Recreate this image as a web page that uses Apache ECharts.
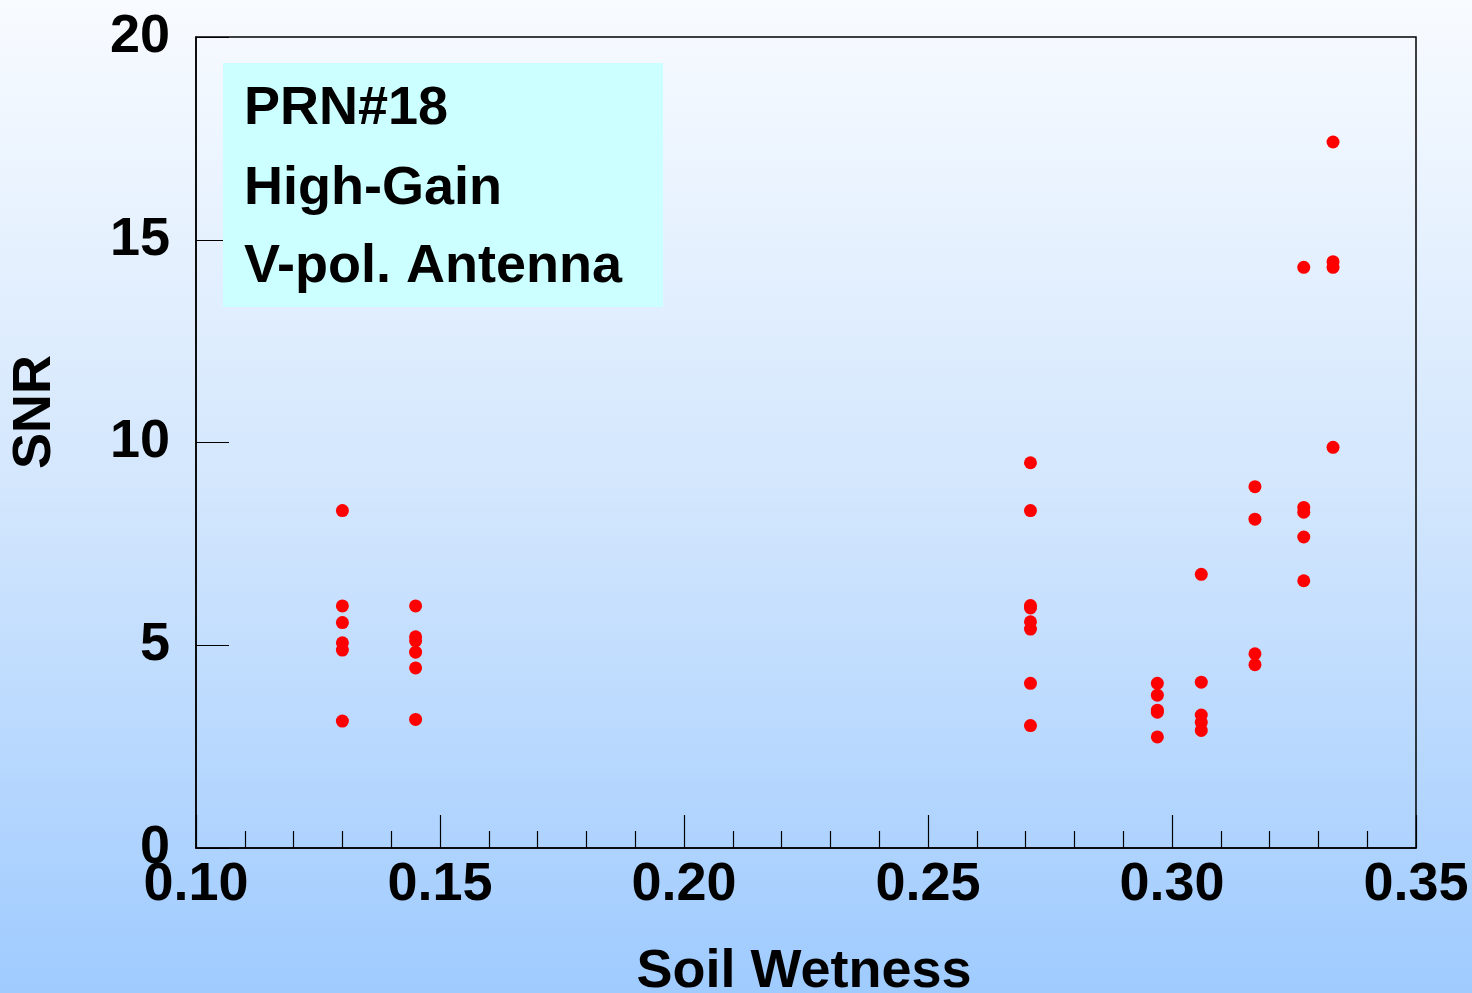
<!DOCTYPE html>
<html>
<head>
<meta charset="utf-8">
<title>SNR vs Soil Wetness</title>
<script src="https://cdn.jsdelivr.net/npm/echarts@6/dist/echarts.min.js"></script>
<style>
  html, body { margin: 0; padding: 0; }
  #chart { width: 1472px; height: 993px; }
</style>
</head>
<body>
<div id="chart"></div>
<script>
// soil wetness of each measurement column
const wetness = [0.13, 0.145, 0.271, 0.297, 0.306, 0.317, 0.327, 0.333];
// SNR readings taken at each wetness value
const snr013 = [8.32, 5.97, 5.56, 5.06, 4.88, 3.13];
const snr0145 = [5.97, 5.21, 5.11, 4.83, 4.44, 3.17];
const snr0271 = [9.50, 8.32, 5.98, 5.92, 5.58, 5.40, 4.06, 3.02];
const snr0297 = [4.06, 3.77, 3.40, 3.35, 2.74];
const snr0306 = [6.75, 4.09, 3.28, 3.10, 2.90];
const snr0317 = [8.91, 8.11, 4.79, 4.52];
const snr0327 = [14.32, 8.40, 8.28, 7.67, 6.59];
const snr0333 = [17.41, 14.46, 14.32, 9.88];
const legendLines = ['PRN#18', 'High-Gain', 'V-pol. Antenna'];

const groups = [snr013, snr0145, snr0271, snr0297, snr0306, snr0317, snr0327, snr0333];
let points = [];
groups.forEach(function (g, i) {
    g.forEach(function (v) { points.push([wetness[i], v]); });
});

const FONT = "'Liberation Sans', Arial, sans-serif";
const BIG = 'bold 54px ' + FONT;
let chart = echarts.init(document.getElementById('chart'));

chart.setOption({
    animation: false,
    backgroundColor: {
        type: 'linear', x: 0, y: 0, x2: 0, y2: 1,
        colorStops: [
            {offset: 0, color: '#f8fbff'},
            {offset: 0.5, color: '#d2e6fd'},
            {offset: 1, color: '#9fcbff'}
        ]
    },
    grid: {
        left: 196, right: 56, top: 37, bottom: 145,
        show: true, borderColor: '#000', borderWidth: 1.5,
        backgroundColor: 'transparent'
    },
    xAxis: {
        type: 'value',
        min: 0.1, max: 0.35, interval: 0.05,
        axisLine: {lineStyle: {color: '#000', width: 1.5}},
        axisTick: {inside: true, length: 33, lineStyle: {color: '#000', width: 1.2}},
        minorTick: {show: true, splitNumber: 5, length: 17, lineStyle: {color: '#000', width: 1.2}},
        splitLine: {show: false},
        axisLabel: {
            color: '#000', fontSize: 54, fontWeight: 'bold', fontFamily: FONT, margin: 10,
            formatter: function (v) { return v.toFixed(2); }
        }
    },
    yAxis: {
        type: 'value',
        min: 0, max: 20, interval: 5,
        axisLine: {lineStyle: {color: '#000', width: 1.5}},
        axisTick: {inside: true, length: 33, lineStyle: {color: '#000', width: 1.2}},
        splitLine: {show: false},
        axisLabel: {
            color: '#000', fontSize: 54, fontWeight: 'bold', fontFamily: FONT, margin: 26,
            padding: [0, 0, 16, 0]
        }
    },
    graphic: [
        {
            type: 'rect', left: 223, top: 63, z: 1,
            shape: {width: 440, height: 244},
            style: {fill: '#ccffff'}
        },
        {
            type: 'text', x: 244, y: 109, z: 2,
            style: {text: legendLines[0], font: BIG, fill: '#000', verticalAlign: 'middle'}
        },
        {
            type: 'text', x: 244, y: 189, z: 2,
            style: {text: legendLines[1], font: BIG, fill: '#000', verticalAlign: 'middle'}
        },
        {
            type: 'text', x: 244, y: 267, z: 2,
            style: {text: legendLines[2], font: BIG, fill: '#000', verticalAlign: 'middle'}
        },
        {
            type: 'text', x: 35, y: 412, rotation: Math.PI / 2, z: 2,
            style: {text: 'SNR', font: BIG, fill: '#000', align: 'center', verticalAlign: 'middle'}
        },
        {
            type: 'text', x: 804, y: 972, z: 2,
            style: {text: 'Soil Wetness', font: BIG, fill: '#000', align: 'center', verticalAlign: 'middle'}
        }
    ],
    series: [
        {
            type: 'scatter',
            symbol: 'circle',
            symbolSize: 13,
            itemStyle: {color: '#ff0000', opacity: 1},
            z: 5,
            data: points
        }
    ]
});
</script>
</body>
</html>
